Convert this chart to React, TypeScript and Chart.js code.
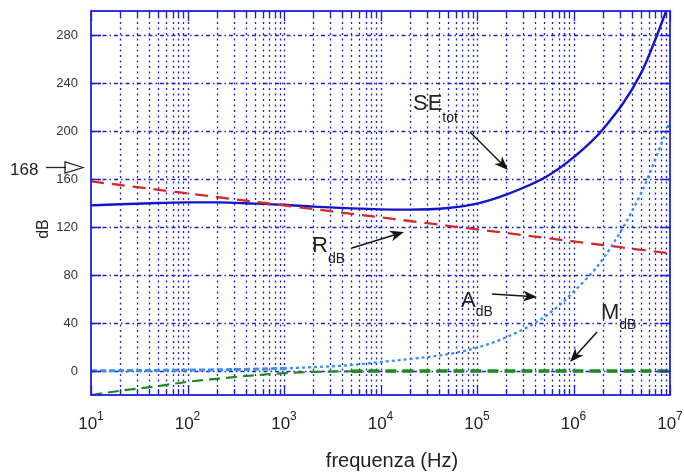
import React, { useEffect, useRef } from 'react';
import { Chart, registerables } from 'chart.js';

Chart.register(...registerables);

// ---- data ----
const frequencies = [10, 20, 50, 100, 200, 500, 1e3, 2e3, 5e3, 1e4, 2e4, 5e4, 1e5, 2e5, 5e5, 1e6, 2e6, 5e6, 1e7];
const seTotDb = [138, 139, 140, 140.5, 140.5, 139.5, 138.5, 137, 135.5, 134.7, 134.5, 135.8, 139.5, 147, 161, 178, 201, 248, 308];
const rDb = [158, 155, 151, 148, 145, 141, 138, 135, 131, 128, 125, 121, 118, 115, 111, 108, 105, 101, 98];
const aDb = [0.2, 0.3, 0.5, 0.7, 1, 1.5, 2.2, 3.2, 5, 7.5, 10, 14, 19.5, 28, 45, 66, 93, 148, 208];
const mDb = [-20, -16.5, -12.5, -9, -6.5, -3.5, -1.8, -0.8, -0.2, 0, 0, 0, 0, 0, 0, 0, 0, 0, 0];

const yTickValues = [0, 40, 80, 120, 160, 200, 240, 280];
const xDecadeExponents = [1, 2, 3, 4, 5, 6, 7];
const minorMultiples = [2, 3, 4, 5, 6, 7, 8, 9];

const GRID = 'rgba(30,30,225,1)';
const FRAME = '#2020dc';
const TEXT = '#222222';
const FONT = '"Liberation Sans", Arial, Helvetica, sans-serif';

const pts = (ys: number[]) => frequencies.map((f, i) => ({ x: f, y: ys[i] }));

function arrow(ctx: CanvasRenderingContext2D, x1: number, y1: number, x2: number, y2: number) {
  const dx = x2 - x1, dy = y2 - y1;
  const len = Math.hypot(dx, dy);
  const ux = dx / len, uy = dy / len;
  const nx = -uy, ny = ux;
  const L = 14, W = 5.5;
  ctx.save();
  ctx.strokeStyle = '#141414';
  ctx.fillStyle = '#141414';
  ctx.lineWidth = 1.5;
  ctx.beginPath();
  ctx.moveTo(x1, y1);
  ctx.lineTo(x2 - ux * 6, y2 - uy * 6);
  ctx.stroke();
  ctx.beginPath();
  ctx.moveTo(x2, y2);
  ctx.lineTo(x2 - ux * L + nx * W, y2 - uy * L + ny * W);
  ctx.lineTo(x2 - ux * (L - 4), y2 - uy * (L - 4));
  ctx.lineTo(x2 - ux * L - nx * W, y2 - uy * L - ny * W);
  ctx.closePath();
  ctx.fill();
  ctx.restore();
}

function subLabel(ctx: CanvasRenderingContext2D, main: string, sub: string, x: number, baseline: number, drop: number) {
  ctx.save();
  ctx.fillStyle = TEXT;
  ctx.textAlign = 'left';
  ctx.textBaseline = 'alphabetic';
  ctx.font = `22px ${FONT}`;
  ctx.fillText(main, x, baseline);
  const w = ctx.measureText(main).width;
  ctx.font = `14px ${FONT}`;
  ctx.fillText(sub, x + w, baseline + drop);
  ctx.restore();
}

const customDraw = {
  id: 'customDraw',
  beforeDatasetsDraw(chart: any) {
    const { ctx, chartArea: a, scales } = chart;
    const xs = scales.x, ys = scales.y;
    ctx.save();
    ctx.strokeStyle = GRID;
    ctx.lineWidth = 1.3;
    // vertical grid (major + minor)
    ctx.setLineDash([2, 3.5]);
    for (const e of xDecadeExponents) {
      const vals = [Math.pow(10, e), ...minorMultiples.map((m) => m * Math.pow(10, e))];
      for (const v of vals) {
        if (v <= 10 || v >= 1e7) continue;
        const px = Math.round(xs.getPixelForValue(v)) + 0.5;
        ctx.beginPath();
        ctx.moveTo(px, a.top);
        ctx.lineTo(px, a.bottom);
        ctx.stroke();
      }
    }
    // horizontal grid
    ctx.setLineDash([4, 3, 1.5, 3]);
    for (const t of yTickValues) {
      const py = Math.round(ys.getPixelForValue(t)) + 0.5;
      ctx.beginPath();
      ctx.moveTo(a.left, py);
      ctx.lineTo(a.right, py);
      ctx.stroke();
    }
    ctx.restore();
  },
  afterDatasetsDraw(chart: any) {
    const { ctx, chartArea: a, scales } = chart;
    const xs = scales.x, ys = scales.y;
    ctx.save();
    // ticks
    ctx.strokeStyle = FRAME;
    ctx.lineWidth = 1.3;
    ctx.setLineDash([]);
    for (const e of xDecadeExponents) {
      const major = Math.pow(10, e);
      const items: [number, number][] = [[major, 10]];
      if (e < 7) for (const m of minorMultiples) items.push([m * major, 6]);
      for (const [v, len] of items) {
        const px = Math.round(xs.getPixelForValue(v)) + 0.5;
        ctx.beginPath();
        ctx.moveTo(px, a.bottom);
        ctx.lineTo(px, a.bottom - len);
        ctx.moveTo(px, a.top);
        ctx.lineTo(px, a.top + len);
        ctx.stroke();
      }
    }
    for (const t of yTickValues) {
      const py = Math.round(ys.getPixelForValue(t)) + 0.5;
      ctx.beginPath();
      ctx.moveTo(a.left, py);
      ctx.lineTo(a.left + 10, py);
      ctx.moveTo(a.right, py);
      ctx.lineTo(a.right - 10, py);
      ctx.stroke();
    }
    // frame
    ctx.lineWidth = 1.8;
    ctx.strokeRect(a.left, a.top, a.right - a.left, a.bottom - a.top);

    // y tick labels
    ctx.fillStyle = '#333333';
    ctx.font = `13px ${FONT}`;
    ctx.textAlign = 'right';
    ctx.textBaseline = 'middle';
    for (const t of yTickValues) {
      ctx.fillText(String(t), a.left - 13, ys.getPixelForValue(t));
    }
    // x tick labels 10^n
    ctx.textBaseline = 'alphabetic';
    ctx.textAlign = 'left';
    for (const e of xDecadeExponents) {
      const px = xs.getPixelForValue(Math.pow(10, e));
      ctx.font = `17px ${FONT}`;
      const wb = ctx.measureText('10').width;
      ctx.font = `12px ${FONT}`;
      const we = ctx.measureText(String(e)).width;
      const x0 = px - (wb + we) / 2;
      ctx.fillStyle = TEXT;
      ctx.font = `17px ${FONT}`;
      ctx.fillText('10', x0, a.bottom + 34);
      ctx.font = `12px ${FONT}`;
      ctx.fillText(String(e), x0 + wb, a.bottom + 25);
    }
    // axis titles
    ctx.fillStyle = TEXT;
    ctx.font = `20px ${FONT}`;
    ctx.textAlign = 'center';
    ctx.fillText('frequenza (Hz)', 392, 467);
    ctx.save();
    ctx.translate(48, 229);
    ctx.rotate(-Math.PI / 2);
    ctx.font = `16px ${FONT}`;
    ctx.textAlign = 'center';
    ctx.fillText('dB', 0, 0);
    ctx.restore();

    // annotations
    subLabel(ctx, 'SE', 'tot', 413, 110, 12);
    arrow(ctx, 470, 132, 508, 170);
    subLabel(ctx, 'R', 'dB', 312, 252, 11);
    arrow(ctx, 352, 248, 404, 232);
    subLabel(ctx, 'A', 'dB', 461, 307, 9);
    arrow(ctx, 492, 294, 537, 297);
    subLabel(ctx, 'M', 'dB', 601, 319, 10);
    arrow(ctx, 597, 332, 570, 362);

    // 168 marker
    ctx.fillStyle = TEXT;
    ctx.font = `17px ${FONT}`;
    ctx.textAlign = 'left';
    ctx.textBaseline = 'alphabetic';
    ctx.fillText('168', 10, 175);
    ctx.strokeStyle = '#222';
    ctx.lineWidth = 1.3;
    ctx.beginPath();
    ctx.moveTo(46, 167.5);
    ctx.lineTo(66, 167.5);
    ctx.stroke();
    ctx.beginPath();
    ctx.moveTo(83, 167.5);
    ctx.lineTo(65, 162);
    ctx.lineTo(65, 173);
    ctx.closePath();
    ctx.stroke();

    ctx.restore();
  },
};

export default function App() {
  const canvasRef = useRef<HTMLCanvasElement | null>(null);

  useEffect(() => {
    if (!canvasRef.current) return;
    const chart = new Chart(canvasRef.current, {
      type: 'line',
      data: {
        datasets: [
          {
            label: 'M_dB',
            data: pts(mDb),
            borderColor: '#1d8a1d',
            borderWidth: 2.2,
            borderDash: [11, 6],
            pointRadius: 0,
            cubicInterpolationMode: 'monotone',
            fill: false,
            segment: {
              borderWidth: (c: any) => (c.p0.parsed.y > -0.5 ? 3.6 : 2.2),
            },
          },
          {
            label: 'A_dB',
            data: pts(aDb),
            borderColor: '#3d8ff0',
            borderWidth: 2.3,
            borderDash: [3, 3],
            pointRadius: 0,
            cubicInterpolationMode: 'monotone',
            fill: false,
            segment: {
              borderWidth: (c: any) => (c.p1.parsed.y < 3 ? 3 : 2.3),
              borderDash: (c: any) => (c.p1.parsed.y < 3 ? [6, 3] : [3, 3]),
            },
          },
          {
            label: 'R_dB',
            data: pts(rDb),
            borderColor: '#d42a2a',
            borderWidth: 2.3,
            borderDash: [13, 8],
            pointRadius: 0,
            cubicInterpolationMode: 'monotone',
            fill: false,
          },
          {
            label: 'SE_tot',
            data: pts(seTotDb),
            borderColor: '#1414c8',
            borderWidth: 2.4,
            pointRadius: 0,
            cubicInterpolationMode: 'monotone',
            fill: false,
          },
        ],
      },
      options: {
        animation: false,
        responsive: false,
        devicePixelRatio: 1,
        layout: { padding: { left: 91, right: 14, top: 11, bottom: 81 } },
        plugins: { legend: { display: false }, tooltip: { enabled: false }, title: { display: false } },
        scales: {
          x: { type: 'logarithmic', min: 10, max: 1e7, display: false },
          y: { type: 'linear', min: -20, max: 300, display: false },
        },
      },
      plugins: [customDraw],
    });
    return () => chart.destroy();
  }, []);

  return (
    <div style={{ position: 'absolute', left: 0, top: 0, width: 684, height: 476, background: '#fff' }}>
      <canvas ref={canvasRef} width={684} height={476} style={{ display: 'block' }} />
    </div>
  );
}
